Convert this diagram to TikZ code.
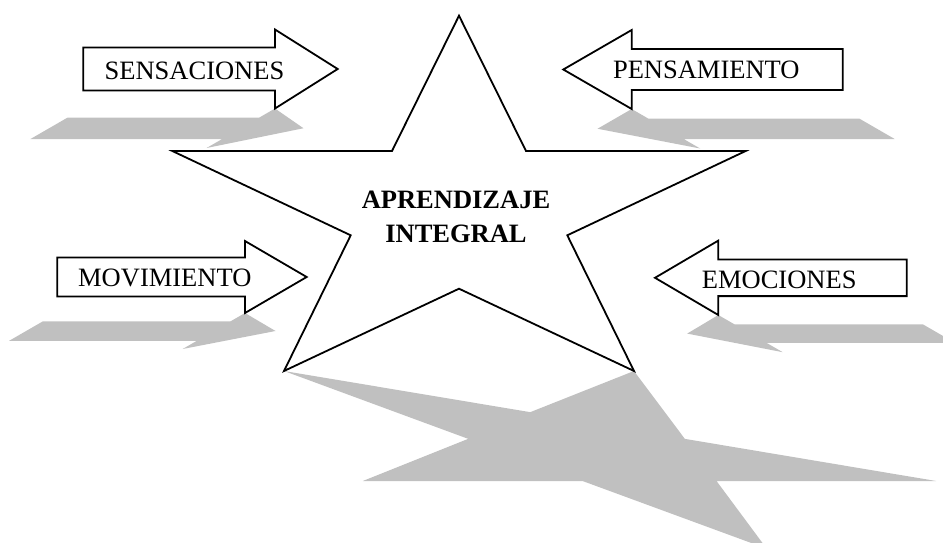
\documentclass[tikz,border=0pt]{standalone}
\usepackage{fontspec}
\setmainfont{Liberation Serif}
\definecolor{shadowgray}{RGB}{192,192,192}
\tikzset{
  outline/.style={draw=black, fill=white, line width=1.8pt, line join=miter},
  % flattened cast shadows, sheared to the left or to the right
  shadowL/.style={fill=shadowgray, cm={1,0,-0.866,-0.5,(0,0)}},
  shadowR/.style={fill=shadowgray, cm={1,0,0.866,-0.5,(0,0)}},
  label/.style={font=\fontsize{26.5}{31.7}\selectfont, inner sep=0pt, anchor=base},
  title/.style={font=\fontsize{26.5}{33.4}\selectfont\bfseries, inner sep=0pt, align=center},
  % block arrow; origin at the lower corner of the head
  % #1 body length, #2 head length, #3 half body height, #4 half head height
  pics/pointer/.style n args={4}{code={
    \path[pic actions] (-#1,-#4-#3) -- (0,-#4-#3) -- (0,-2*#4) -- (#2,-#4)
      -- (0,0) -- (0,-#4+#3) -- (-#1,-#4+#3) -- cycle;
  }},
  % five-pointed star; origin midway between the two lower points
  pics/bigstar/.style={code={
    \path[pic actions] (0,-355.3) -- (67,-220) -- (286.7,-220) -- (108.3,-135.7)
      -- (175,0) -- (0,-82.3) -- (-175,0) -- (-108.3,-135.7)
      -- (-286.7,-220) -- (-67,-220) -- cycle;
  }},
}
\begin{document}
\begin{tikzpicture}[x=1pt, y=-1pt]
  \useasboundingbox (0,0) rectangle (943,543);
  \clip (0,0) rectangle (943,543);

  % shadows
  \pic[shadowR] at (459,371) {bigstar};
  \pic[shadowL] at (275,108.5) {pointer={191.7}{62.7}{21.5}{39.5}};
  \pic[shadowL] at (245,313) {pointer={187.7}{61.7}{19.5}{36}};
  \pic[xscale=-1, shadowL] at (631.7,109) {pointer={211}{68.4}{20.5}{39.5}};
  \pic[xscale=-1, shadowL] at (718.3,315) {pointer={188.4}{63.3}{18.3}{37.2}};

  % star and arrows
  \pic[outline] at (459,371) {bigstar};
  \pic[outline] at (275,108.5) {pointer={191.7}{62.7}{21.5}{39.5}};
  \pic[outline] at (245,313) {pointer={187.7}{61.7}{19.5}{36}};
  \pic[outline, xscale=-1] at (631.7,109) {pointer={211}{68.4}{20.5}{39.5}};
  \pic[outline, xscale=-1] at (718.3,315) {pointer={188.4}{63.3}{18.3}{37.2}};

  % labels
  \node[title] (center) at (456,217) {APRENDIZAJE\\INTEGRAL};
  \node[label] (sens) at (194.5,79.5) {SENSACIONES};
  \node[label] (pens) at (706.3,79) {PENSAMIENTO};
  \node[label] (mov) at (164.8,286.7) {MOVIMIENTO};
  \node[label] (emo) at (779.2,288.3) {EMOCIONES};
\end{tikzpicture}
\end{document}
